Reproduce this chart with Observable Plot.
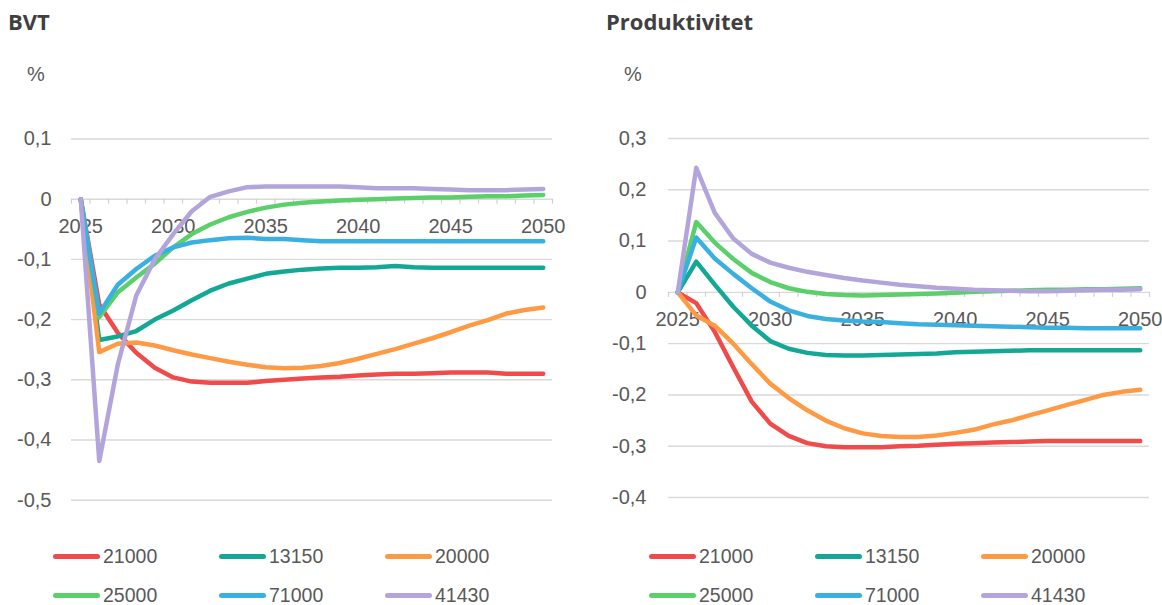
<!DOCTYPE html>
<html>
<head>
<meta charset="utf-8">
<script src="https://cdn.jsdelivr.net/npm/d3@7"></script>
<script src="https://cdn.jsdelivr.net/npm/@observablehq/plot@0.6"></script>
<style>
  body { margin: 0; background: #fff; }
  #page { position: relative; width: 1162px; height: 605px; overflow: hidden; font-family: "Liberation Sans", Arial, sans-serif; }
  .title { position: absolute; top: 6px; line-height: 30px; font-family: "Open Sans", sans-serif; font-weight: 700; font-size: 22px; color: #404040; }
  .unit { position: absolute; top: 63px; font-size: 20px; color: #595959; }
  .panel { position: absolute; top: 0; }
  .legend { position: absolute; top: 547px; display: grid; grid-template-columns: 166px 166px 166px; grid-auto-rows: 19px; row-gap: 20px; }
  .item { display: flex; align-items: center; height: 19px; font-size: 19.5px; line-height: 19px; color: #595959; }
  .swatch { display: inline-block; width: 47px; height: 5px; border-radius: 3px; margin-right: 3px; }
</style>
</head>
<body>
<div id="page">
  <div class="title" style="left:8px">BVT</div>
  <div class="title" style="left:606px">Produktivitet</div>
  <div class="unit" style="left:27px">%</div>
  <div class="unit" style="left:624px">%</div>
  <div class="panel" id="left" style="left:0px"></div>
  <div class="panel" id="right" style="left:581px"></div>
  <div class="legend" id="legend-left" style="left:53px"></div>
  <div class="legend" id="legend-right" style="left:649px"></div>
</div>
<script>
// Years on the category axis
const years = [2025, 2026, 2027, 2028, 2029, 2030, 2031, 2032, 2033, 2034, 2035, 2036, 2037,
               2038, 2039, 2040, 2041, 2042, 2043, 2044, 2045, 2046, 2047, 2048, 2049, 2050];
const labelYears = [2025, 2030, 2035, 2040, 2045, 2050];

// Series (scenario) names and their colours
const seriesNames = ["21000", "13150", "20000", "25000", "71000", "41430"];
const seriesColors = ["#f04b4b", "#13a896", "#ff9a44", "#5acf6a", "#3ab0e0", "#b4a4dc"];

// BVT, % deviation
const bvt21000 = [0, -0.175, -0.222, -0.255, -0.28, -0.296, -0.303, -0.305, -0.305, -0.305, -0.302, -0.3, -0.298,
                  -0.296, -0.295, -0.293, -0.291, -0.29, -0.29, -0.289, -0.288, -0.288, -0.288, -0.29, -0.29, -0.29];
const bvt13150 = [0, -0.234, -0.228, -0.219, -0.2, -0.185, -0.168, -0.152, -0.14, -0.132, -0.124, -0.12, -0.117,
                  -0.115, -0.114, -0.114, -0.113, -0.111, -0.113, -0.114, -0.114, -0.114, -0.114, -0.114, -0.114, -0.114];
const bvt20000 = [0, -0.254, -0.24, -0.238, -0.243, -0.251, -0.258, -0.264, -0.27, -0.275, -0.279, -0.281, -0.28,
                  -0.277, -0.272, -0.265, -0.257, -0.249, -0.24, -0.231, -0.221, -0.21, -0.201, -0.19, -0.184, -0.18];
const bvt25000 = [0, -0.196, -0.155, -0.13, -0.107, -0.08, -0.058, -0.042, -0.03, -0.021, -0.014, -0.009, -0.006,
                  -0.004, -0.002, -0.001, 0, 0.001, 0.002, 0.003, 0.003, 0.004, 0.005, 0.005, 0.006, 0.007];
const bvt71000 = [0, -0.19, -0.142, -0.116, -0.094, -0.08, -0.072, -0.068, -0.065, -0.064, -0.066, -0.066, -0.068,
                  -0.07, -0.07, -0.07, -0.07, -0.07, -0.07, -0.07, -0.07, -0.07, -0.07, -0.07, -0.07, -0.07];
const bvt41430 = [0, -0.435, -0.275, -0.16, -0.1, -0.058, -0.02, 0.004, 0.013, 0.02, 0.021, 0.021, 0.021,
                  0.021, 0.021, 0.02, 0.018, 0.018, 0.018, 0.017, 0.016, 0.015, 0.015, 0.015, 0.016, 0.017];

// Produktivitet, % deviation
const prod21000 = [0, -0.021, -0.077, -0.146, -0.213, -0.256, -0.28, -0.294, -0.3, -0.302, -0.302, -0.302, -0.3,
                   -0.299, -0.297, -0.295, -0.294, -0.293, -0.292, -0.291, -0.29, -0.29, -0.29, -0.29, -0.29, -0.29];
const prod13150 = [0, 0.06, 0.015, -0.028, -0.065, -0.095, -0.11, -0.118, -0.122, -0.123, -0.123, -0.122, -0.121,
                   -0.12, -0.119, -0.117, -0.116, -0.115, -0.114, -0.113, -0.113, -0.113, -0.113, -0.113, -0.113, -0.113];
const prod20000 = [0, -0.045, -0.065, -0.1, -0.14, -0.178, -0.206, -0.23, -0.25, -0.265, -0.275, -0.28, -0.282,
                   -0.282, -0.279, -0.274, -0.268, -0.258, -0.25, -0.24, -0.23, -0.22, -0.21, -0.2, -0.194, -0.19];
const prod25000 = [0, 0.137, 0.097, 0.065, 0.038, 0.02, 0.008, 0.001, -0.003, -0.005, -0.006, -0.005, -0.004,
                   -0.003, -0.002, -0.001, 0.001, 0.002, 0.003, 0.004, 0.005, 0.005, 0.006, 0.006, 0.007, 0.008];
const prod71000 = [0, 0.107, 0.066, 0.036, 0.008, -0.018, -0.035, -0.046, -0.052, -0.055, -0.057, -0.058, -0.06,
                   -0.062, -0.063, -0.064, -0.065, -0.066, -0.067, -0.068, -0.069, -0.069, -0.07, -0.07, -0.07, -0.07];
const prod41430 = [0, 0.243, 0.155, 0.105, 0.075, 0.058, 0.048, 0.04, 0.034, 0.028, 0.023, 0.019, 0.015,
                   0.012, 0.009, 0.007, 0.005, 0.004, 0.003, 0.002, 0.002, 0.003, 0.004, 0.005, 0.005, 0.006];

// Y tick values for each panel
const bvtTicks = [0.1, 0, -0.1, -0.2, -0.3, -0.4, -0.5];
const prodTicks = [0.3, 0.2, 0.1, 0, -0.1, -0.2, -0.3, -0.4];

// Long table built from the arrays above
function toRows(arrays) {
  return arrays.flatMap((values, s) =>
    values.map((value, i) => ({ year: years[i], value, series: seriesNames[s] })));
}

const bvtRows = toRows([bvt21000, bvt13150, bvt20000, bvt25000, bvt71000, bvt41430]);
const prodRows = toRows([prod21000, prod13150, prod20000, prod25000, prod71000, prod41430]);

// Category boundaries carry the small axis tick marks
const boundaries = years.map(y => y - 0.5).concat([years[years.length - 1] + 0.5]);

const fmt = d => d === 0 ? "0" : d.toFixed(1).replace(".", ",");

function panel(rows, ticks, opts) {
  return Plot.plot({
    width: 581,
    height: 520,
    marginTop: opts.marginTop,
    marginBottom: opts.marginBottom,
    marginLeft: opts.marginLeft,
    marginRight: opts.marginRight,
    x: { domain: [years[0] - 0.5, years[years.length - 1] + 0.5], axis: null },
    y: { domain: [d3.min(ticks), d3.max(ticks)], axis: null },
    color: { domain: seriesNames, range: seriesColors },
    style: { background: "transparent", fontFamily: "Liberation Sans, Arial, sans-serif", color: "#595959", overflow: "visible" },
    marks: [
      Plot.ruleY(ticks, { stroke: "#d9d9d9", strokeWidth: 1.4 }),
      Plot.ruleX(boundaries, { x: d => d, y1: 0, y2: 0, insetBottom: -5, stroke: "#d0d0d0", strokeWidth: 1.2 }),
      Plot.axisY({ ticks, label: null, tickSize: 0, tickPadding: opts.tickPadding, tickFormat: fmt, fontSize: 20, fill: "#595959" }),
      Plot.text(labelYears, { x: d => d, y: 0, dy: 27, text: d => String(d), fontSize: 20, fill: "#595959" }),
      Plot.line(rows, {
        x: "year", y: "value", z: "series", stroke: "series",
        strokeWidth: 4.5, strokeLinecap: "round", strokeLinejoin: "round"
      })
    ]
  });
}

document.getElementById("left").appendChild(
  panel(bvtRows, bvtTicks, { marginTop: 138.5, marginBottom: 20.3, marginLeft: 71, marginRight: 29, tickPadding: 20 }));
document.getElementById("right").appendChild(
  panel(prodRows, prodTicks, { marginTop: 138, marginBottom: 23, marginLeft: 87, marginRight: 13, tickPadding: 22 }));

// Legends below each panel
function legend(id) {
  const el = document.getElementById(id);
  seriesNames.forEach((name, i) => {
    const item = document.createElement("div");
    item.className = "item";
    const sw = document.createElement("span");
    sw.className = "swatch";
    sw.style.background = seriesColors[i];
    item.appendChild(sw);
    item.appendChild(document.createTextNode(name));
    el.appendChild(item);
  });
}
legend("legend-left");
legend("legend-right");
</script>
</body>
</html>
